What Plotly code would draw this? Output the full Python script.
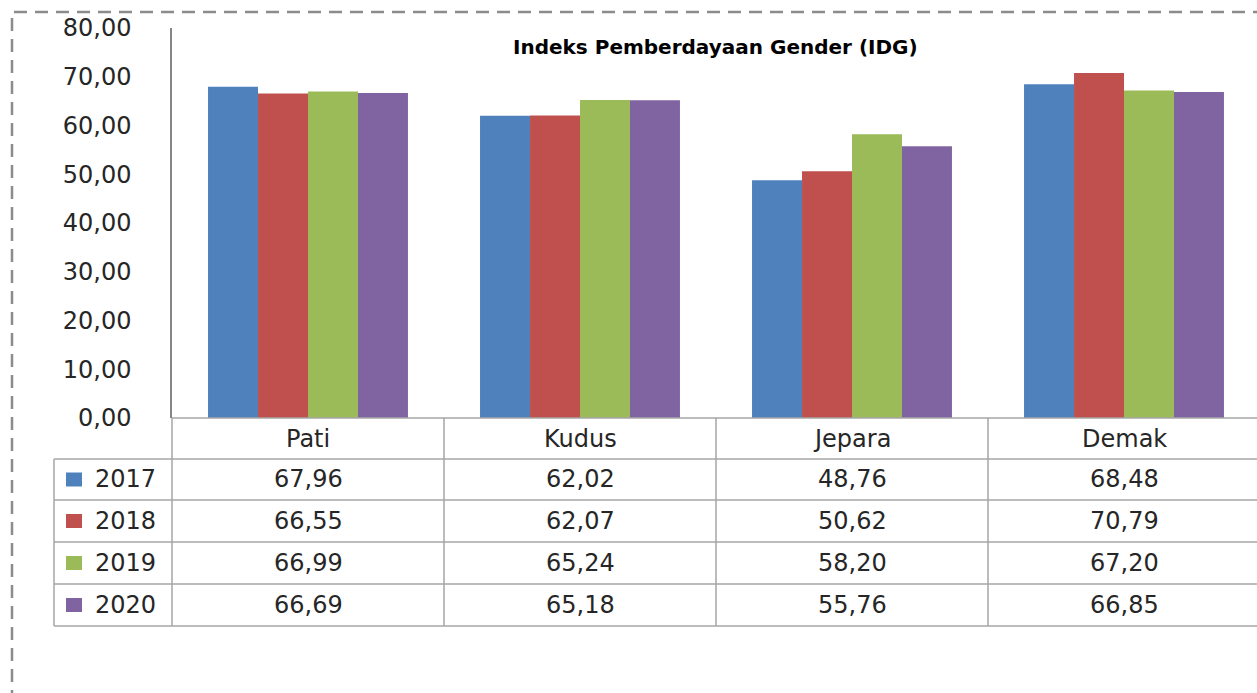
import plotly.graph_objects as go

categories = ["Pati", "Kudus", "Jepara", "Demak"]
years = ["2017", "2018", "2019", "2020"]
v2017 = [67.96, 62.02, 48.76, 68.48]
v2018 = [66.55, 62.07, 50.62, 70.79]
v2019 = [66.99, 65.24, 58.20, 67.20]
v2020 = [66.69, 65.18, 55.76, 66.85]
series = [v2017, v2018, v2019, v2020]
colors = ["#4F81BD", "#C0504D", "#9BBB59", "#8064A2"]
title = "Indeks Pemberdayaan Gender (IDG)"

W, H = 1257, 693
L, T, B = 172, 28, 418           # plot area pixel edges
CAT_W = 272                       # pixel width of one category
FONT = "DejaVu Sans"
TXT = "#262626"
GRID = "#A6A6A6"
FS = 24

x_range = [-0.5, -0.5 + (W - L) / CAT_W]

def pxx(p):
    return (p - L) / (W - L)

def pxy(p):
    return (B - p) / (B - T)

def cat_px(c):
    return L + (c - x_range[0]) * CAT_W

fig = go.Figure()
for yr, vals, col in zip(years, series, colors):
    fig.add_trace(go.Bar(x=categories, y=vals, name=yr, marker=dict(color=col, line=dict(width=0))))

shapes = []
annotations = []

# dashed outer border
shapes.append(dict(type="rect", xref="paper", yref="paper",
                   x0=pxx(12), x1=pxx(1400), y0=pxy(800), y1=pxy(12),
                   line=dict(color="#8C8C8C", width=2.5, dash="13px,8px")))

# table geometry (pixels)
row_edges = [418, 459, 500, 542, 584, 626]
left_edge = 54
right_edge = 1400

shapes.append(dict(type="line", xref="paper", yref="paper", x0=pxx(L), x1=pxx(right_edge),
                   y0=pxy(row_edges[0]), y1=pxy(row_edges[0]), line=dict(color=GRID, width=1.5)))
for r in row_edges[1:]:
    shapes.append(dict(type="line", xref="paper", yref="paper", x0=pxx(left_edge), x1=pxx(right_edge),
                       y0=pxy(r), y1=pxy(r), line=dict(color=GRID, width=1.5)))
shapes.append(dict(type="line", xref="paper", yref="paper", x0=pxx(left_edge), x1=pxx(left_edge),
                   y0=pxy(row_edges[1]), y1=pxy(row_edges[-1]), line=dict(color=GRID, width=1.5)))
for i in range(len(categories)):
    xp = cat_px(i - 0.5)
    shapes.append(dict(type="line", xref="paper", yref="paper", x0=pxx(xp), x1=pxx(xp),
                       y0=pxy(row_edges[0]), y1=pxy(row_edges[-1]), line=dict(color=GRID, width=1.5)))

hdr_y = (row_edges[0] + row_edges[1]) / 2
for i, c in enumerate(categories):
    annotations.append(dict(x=pxx(cat_px(i)), y=pxy(hdr_y), xref="paper", yref="paper",
                            text=c, showarrow=False, font=dict(family=FONT, size=FS, color=TXT),
                            xanchor="center", yanchor="middle"))

for k, (yr, vals, col) in enumerate(zip(years, series, colors)):
    yc = (row_edges[k + 1] + row_edges[k + 2]) / 2
    shapes.append(dict(type="rect", xref="paper", yref="paper",
                       x0=pxx(66), x1=pxx(82), y0=pxy(yc + 7), y1=pxy(yc - 7),
                       fillcolor=col, line=dict(width=0)))
    annotations.append(dict(x=pxx(93), y=pxy(yc), xref="paper", yref="paper", text=yr,
                            showarrow=False, font=dict(family=FONT, size=FS, color=TXT),
                            xanchor="left", yanchor="middle"))
    for i, v in enumerate(vals):
        annotations.append(dict(x=pxx(cat_px(i)), y=pxy(yc), xref="paper", yref="paper",
                                text=f"{v:.2f}".replace(".", ","), showarrow=False,
                                font=dict(family=FONT, size=FS, color=TXT),
                                xanchor="center", yanchor="middle"))

annotations.append(dict(x=pxx(715), y=pxy(47), xref="paper", yref="paper", text="<b>" + title + "</b>",
                        showarrow=False, font=dict(family=FONT, size=20, color="#000000"),
                        xanchor="center", yanchor="middle"))

fig.update_layout(
    width=W, height=H,
    margin=dict(l=L, r=0, t=T, b=H - B, pad=0),
    paper_bgcolor="white", plot_bgcolor="white",
    barmode="group", bargap=0.265, bargroupgap=0,
    showlegend=False,
    separators=", ",
    shapes=shapes, annotations=annotations,
    font=dict(family=FONT, color=TXT),
)
fig.update_xaxes(range=x_range, showticklabels=False, showgrid=False, zeroline=False,
                 showline=False, ticks="")
fig.update_yaxes(range=[0, 80], dtick=10, tick0=0, tickformat=".2f", showgrid=False,
                 zeroline=False, showline=True, linecolor="#868686", linewidth=1.5,
                 ticks="", ticklabelstandoff=34, tickfont=dict(family=FONT, size=FS, color=TXT))

fig.write_html("out.html", config={"displayModeBar": False},
               post_script="document.body.style.margin='0';document.body.style.overflow='hidden';")
